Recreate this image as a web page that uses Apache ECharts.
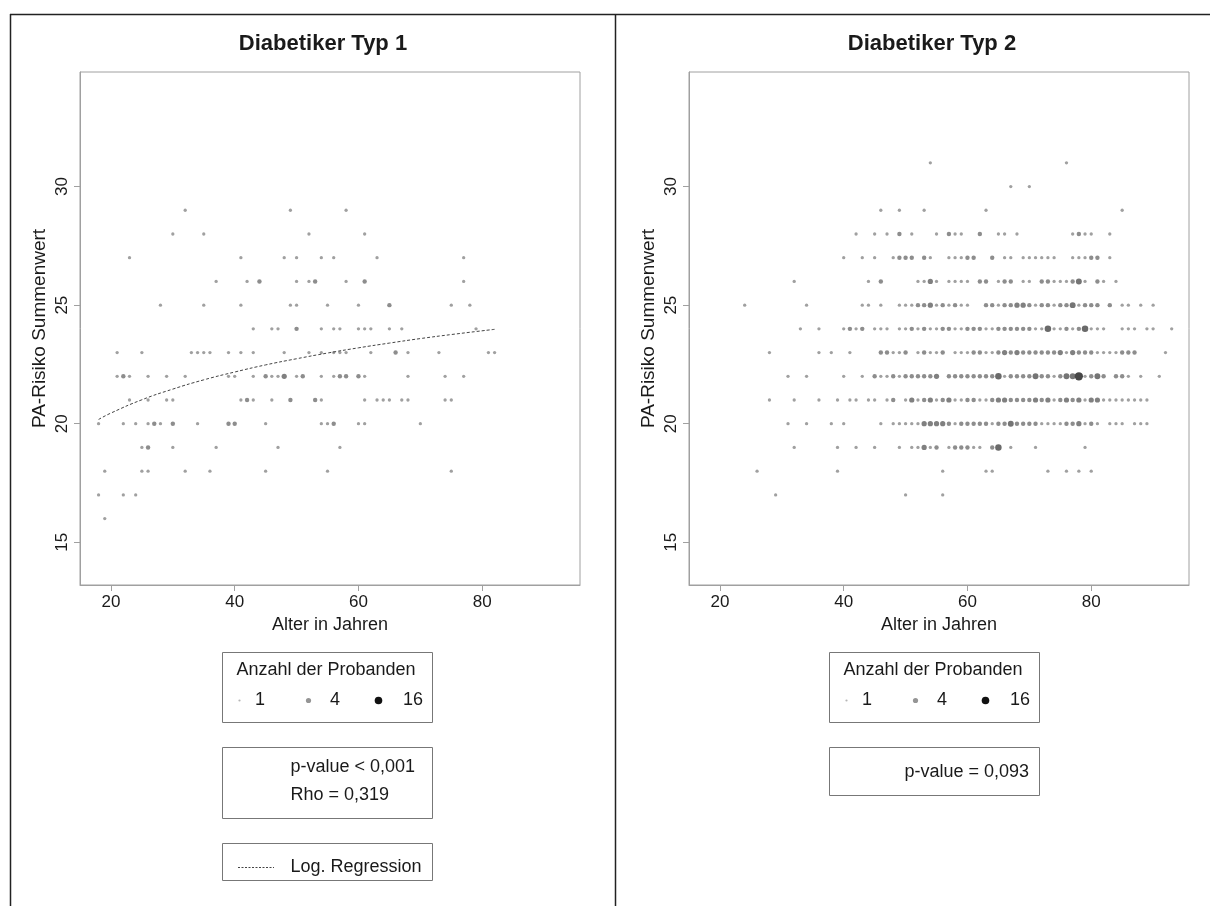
<!DOCTYPE html>
<html>
<head>
<meta charset="utf-8">
<script src="https://cdn.jsdelivr.net/npm/echarts@6/dist/echarts.min.js"></script>
<style>
  html, body { margin: 0; padding: 0; background: #ffffff; }
  #chart { width: 1210px; height: 906px; }
</style>
</head>
<body>
<div id="chart"></div>
<script>
// Age (years), PA risk sum score, number of participants at that point
const t1Points = [
  [32,29,1],[49,29,1],[58,29,1],
  [30,28,1],[35,28,1],[52,28,1],[61,28,1],
  [23,27,1],[41,27,1],[48,27,1],[50,27,1],[54,27,1],[56,27,1],[63,27,1],[77,27,1],
  [37,26,1],[42,26,1],[44,26,2],[50,26,1],[52,26,1],[53,26,2],[58,26,1],[61,26,2],[77,26,1],
  [28,25,1],[35,25,1],[41,25,1],[49,25,1],[50,25,1],[55,25,1],[60,25,1],[65,25,2],[75,25,1],[78,25,1],
  [43,24,1],[46,24,1],[47,24,1],[50,24,2],[54,24,1],[56,24,1],[57,24,1],[60,24,1],[61,24,1],[62,24,1],[65,24,1],[67,24,1],[79,24,1],
  [21,23,1],[25,23,1],[33,23,1],[34,23,1],[35,23,1],[36,23,1],[39,23,1],[41,23,1],[43,23,1],[48,23,1],[52,23,1],[54,23,1],[56,23,1],[57,23,1],[58,23,1],[62,23,1],[66,23,2],[68,23,1],[73,23,1],[81,23,1],[82,23,1],
  [21,22,1],[22,22,2],[23,22,1],[26,22,1],[29,22,1],[32,22,1],[39,22,1],[40,22,1],[43,22,1],[45,22,2],[46,22,1],[47,22,1],[48,22,3],[50,22,1],[51,22,2],[54,22,1],[56,22,1],[57,22,2],[58,22,2],[60,22,2],[61,22,1],[68,22,1],[74,22,1],[77,22,1],
  [23,21,1],[26,21,1],[29,21,1],[30,21,1],[41,21,1],[42,21,2],[43,21,1],[46,21,1],[49,21,2],[53,21,2],[54,21,1],[61,21,1],[63,21,1],[64,21,1],[65,21,1],[67,21,1],[68,21,1],[74,21,1],[75,21,1],
  [18,20,1],[22,20,1],[24,20,1],[26,20,1],[27,20,2],[28,20,1],[30,20,2],[34,20,1],[39,20,2],[40,20,2],[45,20,1],[54,20,1],[55,20,1],[56,20,2],[60,20,1],[61,20,1],[70,20,1],
  [25,19,1],[26,19,2],[30,19,1],[37,19,1],[47,19,1],[57,19,1],
  [19,18,1],[25,18,1],[26,18,1],[32,18,1],[36,18,1],[45,18,1],[55,18,1],[75,18,1],
  [18,17,1],[22,17,1],[24,17,1],
  [19,16,1]
];

const t2Points = [
  [54,31,1],[76,31,1],
  [67,30,1],[70,30,1],
  [46,29,1],[49,29,1],[53,29,1],[63,29,1],[85,29,1],
  [42,28,1],[45,28,1],[47,28,1],[49,28,2],[51,28,1],[55,28,1],[57,28,2],[58,28,1],[59,28,1],[62,28,2],[65,28,1],[66,28,1],[68,28,1],[77,28,1],[78,28,2],[79,28,1],[80,28,1],[83,28,1],
  [40,27,1],[43,27,1],[45,27,1],[48,27,1],[49,27,2],[50,27,2],[51,27,2],[53,27,2],[54,27,1],[57,27,1],[58,27,1],[59,27,1],[60,27,2],[61,27,2],[64,27,2],[66,27,1],[67,27,1],[69,27,1],[70,27,1],[71,27,1],[72,27,1],[73,27,1],[74,27,1],[77,27,1],[78,27,1],[79,27,1],[80,27,2],[81,27,2],[83,27,1],
  [32,26,1],[44,26,1],[46,26,2],[52,26,1],[53,26,1],[54,26,3],[55,26,1],[57,26,1],[58,26,1],[59,26,1],[60,26,1],[62,26,2],[63,26,2],[65,26,1],[66,26,2],[67,26,2],[69,26,1],[70,26,1],[72,26,2],[73,26,2],[74,26,1],[75,26,1],[76,26,1],[77,26,2],[78,26,4],[79,26,1],[81,26,2],[82,26,1],[84,26,1],
  [24,25,1],[34,25,1],[43,25,1],[44,25,1],[46,25,1],[49,25,1],[50,25,1],[51,25,1],[52,25,2],[53,25,2],[54,25,3],[55,25,1],[56,25,2],[57,25,1],[58,25,2],[59,25,1],[60,25,1],[63,25,2],[64,25,2],[65,25,1],[66,25,2],[67,25,2],[68,25,3],[69,25,3],[70,25,2],[71,25,1],[72,25,2],[73,25,2],[74,25,1],[75,25,2],[76,25,2],[77,25,4],[78,25,1],[79,25,2],[80,25,2],[81,25,2],[83,25,2],[85,25,1],[86,25,1],[88,25,1],[90,25,1],
  [33,24,1],[36,24,1],[40,24,1],[41,24,2],[42,24,1],[43,24,2],[45,24,1],[46,24,1],[47,24,1],[49,24,1],[50,24,1],[51,24,2],[52,24,1],[53,24,2],[54,24,1],[55,24,1],[56,24,2],[57,24,2],
  [58,24,1],[59,24,1],[60,24,2],[61,24,2],[62,24,2],[63,24,1],[64,24,1],[65,24,2],[66,24,2],[67,24,2],[68,24,2],[69,24,2],[70,24,2],[71,24,1],[72,24,1],[73,24,5],[74,24,1],[75,24,1],[76,24,2],[77,24,1],[78,24,2],[79,24,5],[80,24,1],[81,24,1],[82,24,1],[85,24,1],[86,24,1],[87,24,1],[89,24,1],[90,24,1],[93,24,1],
  [28,23,1],[36,23,1],[38,23,1],[41,23,1],[46,23,2],[47,23,2],[48,23,1],[49,23,1],[50,23,2],[52,23,1],[53,23,2],[54,23,1],[55,23,1],[56,23,2],
  [58,23,1],[59,23,1],[60,23,1],[61,23,2],[62,23,2],[63,23,1],[64,23,1],[65,23,2],[66,23,3],[67,23,2],[68,23,3],[69,23,2],[70,23,2],[71,23,2],[72,23,2],[73,23,2],[74,23,2],[75,23,3],[76,23,1],[77,23,3],[78,23,2],[79,23,2],[80,23,2],[81,23,1],[82,23,1],[83,23,1],[84,23,1],[85,23,2],[86,23,2],[87,23,2],[92,23,1],
  [31,22,1],[34,22,1],[40,22,1],[43,22,1],[45,22,2],[46,22,1],[47,22,1],[48,22,2],[49,22,1],[50,22,2],[51,22,2],[52,22,2],[53,22,2],[54,22,2],[55,22,3],[57,22,2],
  [58,22,2],[59,22,2],[60,22,2],[61,22,2],[62,22,2],[63,22,2],[64,22,2],[65,22,5],[66,22,1],[67,22,2],[68,22,2],[69,22,2],[70,22,2],[71,22,4],[72,22,2],[73,22,2],[74,22,1],[75,22,2],[76,22,4],[77,22,4],[78,22,9],[79,22,1],[80,22,2],[81,22,4],[82,22,2],[84,22,2],[85,22,2],[86,22,1],[88,22,1],[91,22,1],
  [28,21,1],[32,21,1],[36,21,1],[39,21,1],[41,21,1],[42,21,1],[44,21,1],[45,21,1],[47,21,1],[48,21,2],[50,21,1],[51,21,3],[52,21,1],[53,21,2],[54,21,3],[55,21,1],[56,21,2],[57,21,3],
  [58,21,1],[59,21,1],[60,21,2],[61,21,2],[62,21,1],[63,21,1],[64,21,2],[65,21,3],[66,21,3],[67,21,2],[68,21,2],[69,21,2],[70,21,2],[71,21,3],[72,21,2],[73,21,3],[74,21,1],[75,21,2],[76,21,3],[77,21,2],[78,21,3],[79,21,1],[80,21,3],[81,21,3],[82,21,1],[83,21,1],[84,21,1],[85,21,1],[86,21,1],[87,21,1],[88,21,1],[89,21,1],
  [31,20,1],[34,20,1],[38,20,1],[40,20,1],[46,20,1],[48,20,1],[49,20,1],[50,20,1],[51,20,1],[52,20,1],[53,20,3],[54,20,3],[55,20,3],[56,20,3],[57,20,2],
  [58,20,1],[59,20,2],[60,20,2],[61,20,2],[62,20,2],[63,20,2],[64,20,1],[65,20,2],[66,20,2],[67,20,4],[68,20,2],[69,20,2],[70,20,2],[71,20,2],[72,20,1],[73,20,1],[74,20,1],[75,20,1],[76,20,2],[77,20,2],[78,20,3],[79,20,1],[80,20,2],[81,20,1],[83,20,1],[84,20,1],[85,20,1],[87,20,1],[88,20,1],[89,20,1],
  [32,19,1],[39,19,1],[42,19,1],[45,19,1],[49,19,1],[51,19,1],[52,19,1],[53,19,3],[54,19,1],[55,19,2],[57,19,1],[58,19,2],[59,19,2],[60,19,2],[61,19,1],[62,19,1],[64,19,2],[65,19,5],[67,19,1],[71,19,1],[79,19,1],
  [26,18,1],[39,18,1],[56,18,1],[63,18,1],[64,18,1],[73,18,1],[76,18,1],[78,18,1],[80,18,1],
  [29,17,1],[50,17,1],[56,17,1]
];

// Logarithmic regression curve for type 1 (age -> fitted score)
const regAges = [18, 20, 25, 30, 35, 40, 45, 50, 55, 60, 65, 70, 75, 82];
const regFit  = [20.18, 20.45, 21.01, 21.46, 21.85, 22.18, 22.48, 22.74, 22.98, 23.20, 23.40, 23.59, 23.76, 23.98];

const xTicks = [20, 40, 60, 80];
const yTicks = [15, 20, 25, 30];
const legendCounts = [1, 4, 16];

const FONT = '"Liberation Sans", Arial, Helvetica, sans-serif';
const TXT = '#1a1a1a';

// grey level darkens and dot grows with the number of participants
function shade(n) {
  const t = Math.pow((n - 1) / 15, 0.75);
  const c = Math.round(160 - 145 * t);
  return 'rgb(' + c + ',' + c + ',' + c + ')';
}
function dotSize(n) { return 3.3 * Math.pow(n, 0.42); }

function byCount(pts) { return pts.slice().sort((a, b) => a[2] - b[2]); }

function makeX(idx) {
  return {
    type: 'value', gridIndex: idx, min: 15, max: 95.8,
    splitLine: { show: false },
    axisLine: { show: true, onZero: false, lineStyle: { color: '#a0a0a0', width: 1 } },
    axisTick: { show: true, customValues: xTicks, length: 6, lineStyle: { color: '#a0a0a0' } },
    axisLabel: { customValues: xTicks, color: TXT, fontSize: 17, fontFamily: FONT, margin: 9 },
    name: 'Alter in Jahren', nameLocation: 'middle', nameGap: 29,
    nameTextStyle: { color: TXT, fontSize: 18, fontFamily: FONT }
  };
}
function makeY(idx) {
  return {
    type: 'value', gridIndex: idx, min: 13.2, max: 34.83,
    splitLine: { show: false },
    axisLine: { show: true, onZero: false, lineStyle: { color: '#a0a0a0', width: 1 } },
    axisTick: { show: true, customValues: yTicks, length: 6, lineStyle: { color: '#a0a0a0' } },
    axisLabel: { customValues: yTicks, color: TXT, fontSize: 17, fontFamily: FONT, rotate: 90, margin: 9 },
    name: 'PA-Risiko Summenwert', nameLocation: 'middle', nameGap: 31,
    nameTextStyle: { color: TXT, fontSize: 19, fontFamily: FONT }
  };
}

function scatter(idx, pts) {
  return {
    type: 'scatter', xAxisIndex: idx, yAxisIndex: idx,
    data: byCount(pts),
    symbol: 'circle',
    symbolSize: v => dotSize(v[2]),
    itemStyle: { color: p => shade(p.data[2]), opacity: 1 },
    emphasis: { disabled: true },
    z: 3
  };
}

// legend / statistics boxes, drawn for a panel shifted by dx
function txt(x, y, s, align, font) {
  return {
    type: 'text', silent: true,
    style: { x: x, y: y, text: s, fill: TXT, font: font || ('18px ' + FONT), textAlign: align || 'left', textVerticalAlign: 'middle' }
  };
}
function legendBox(dx) {
  const els = [];
  els.push({ type: 'rect', silent: true, shape: { x: 222.5 + dx, y: 652.5, width: 210, height: 70 },
             style: { fill: '#fff', stroke: '#777', lineWidth: 1 } });
  els.push(txt(326 + dx, 670, 'Anzahl der Probanden', 'center'));
  const dotX = [239.5, 308.5, 378.5];
  const labX = [260, 335, 413];
  const legR = [1.1, 2.6, 3.8];
  const legC = ['#b5b5b5', '#959595', '#111111'];
  legendCounts.forEach((n, i) => {
    els.push({ type: 'circle', silent: true, shape: { cx: dotX[i] + dx, cy: 700.5, r: legR[i] }, style: { fill: legC[i] } });
    els.push(txt(labX[i] + dx, 700.5, String(n), 'center'));
  });
  return els;
}

const graphics = [
  // panel frames
  { type: 'line', silent: true, shape: { x1: 10, y1: 14.5, x2: 1210, y2: 14.5 }, style: { stroke: '#222', lineWidth: 1.5 } },
  { type: 'line', silent: true, shape: { x1: 10.5, y1: 14, x2: 10.5, y2: 906 }, style: { stroke: '#222', lineWidth: 1.5 } },
  { type: 'line', silent: true, shape: { x1: 615.5, y1: 14, x2: 615.5, y2: 906 }, style: { stroke: '#222', lineWidth: 1.5 } },
  // titles
  txt(323, 44, 'Diabetiker Typ 1', 'center', 'bold 22px ' + FONT),
  txt(932, 44, 'Diabetiker Typ 2', 'center', 'bold 22px ' + FONT),
  ...legendBox(0),
  ...legendBox(607),
  // statistics, type 1
  { type: 'rect', silent: true, shape: { x: 222.5, y: 747.5, width: 210, height: 71 }, style: { fill: '#fff', stroke: '#777', lineWidth: 1 } },
  txt(290.5, 767, 'p-value < 0,001'),
  txt(290.5, 795, 'Rho = 0,319'),
  // regression legend, type 1
  { type: 'rect', silent: true, shape: { x: 222.5, y: 843.5, width: 210, height: 37 }, style: { fill: '#fff', stroke: '#777', lineWidth: 1 } },
  { type: 'line', silent: true, shape: { x1: 238, y1: 867.5, x2: 274, y2: 867.5 }, style: { stroke: '#444', lineWidth: 1, lineDash: [2, 1.5] } },
  txt(290.5, 867, 'Log. Regression'),
  // statistics, type 2
  { type: 'rect', silent: true, shape: { x: 829.5, y: 747.5, width: 210, height: 48 }, style: { fill: '#fff', stroke: '#777', lineWidth: 1 } },
  txt(1029, 772, 'p-value = 0,093', 'right')
];

const chart = echarts.init(document.getElementById('chart'), null, { renderer: 'canvas' });
chart.setOption({
  backgroundColor: '#ffffff',
  animation: false,
  grid: [
    { left: 80, top: 72, width: 500, height: 513, show: true, borderColor: '#a0a0a0', borderWidth: 1, backgroundColor: '#fff' },
    { left: 689, top: 72, width: 500, height: 513, show: true, borderColor: '#a0a0a0', borderWidth: 1, backgroundColor: '#fff' }
  ],
  xAxis: [makeX(0), makeX(1)],
  yAxis: [makeY(0), makeY(1)],
  series: [
    scatter(0, t1Points),
    {
      type: 'line', xAxisIndex: 0, yAxisIndex: 0,
      data: regAges.map((a, i) => [a, regFit[i]]),
      smooth: true, showSymbol: false, symbol: 'none',
      lineStyle: { color: '#444', width: 1, type: [3, 2] },
      emphasis: { disabled: true },
      z: 4
    },
    scatter(1, t2Points)
  ],
  graphic: { elements: graphics }
});
</script>
</body>
</html>
